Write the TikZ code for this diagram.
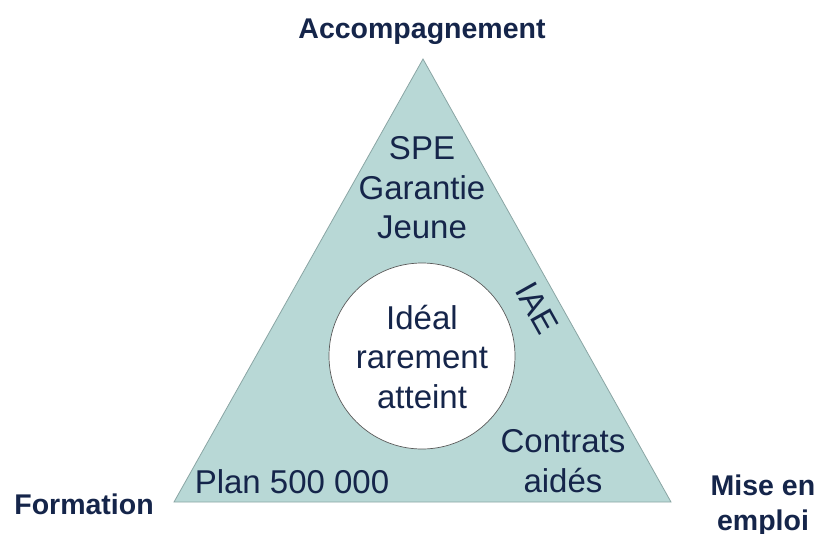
\documentclass[tikz,border=0pt]{standalone}
\usepackage{fontspec}
\setmainfont{Liberation Sans}
\definecolor{txt}{HTML}{15254A}
\definecolor{trifill}{HTML}{B8D8D6}
\definecolor{edge}{HTML}{8AA5A4}
\begin{document}
\begin{tikzpicture}[x=1pt,y=-1pt,
  lbl/.style={text=txt,font=\fontsize{33}{39.5}\selectfont,align=center,inner sep=0pt},
  corner/.style={text=txt,font=\bfseries\fontsize{28.5}{35}\selectfont,align=center,inner sep=0pt}]
\path[use as bounding box] (0,0) rectangle (819,533);
\coordinate (A) at (423,59);
\coordinate (L) at (174,502);
\coordinate (R) at (671,502);
\draw[fill=trifill,draw=edge,line width=0.8pt,line join=miter] (A) -- (L) -- (R) -- cycle;
\node[circle,draw=gray!70!black,line width=0.7pt,fill=white,minimum size=186pt,inner sep=0pt] (ideal) at (422,356) {};
\node[lbl] (idealtxt) at (422,357) {Idéal\\rarement\\atteint};
\node[lbl] (spe) at (422,188) {SPE\\Garantie\\Jeune};
\node[lbl,rotate=-60.75] (iae) at (537,308) {IAE};
\node[lbl] (contrats) at (563,461) {Contrats\\aidés};
\node[lbl] (plan) at (292,482) {Plan 500 000};
\node[corner] (acc) at (422,32) {Accompagnement};
\node[corner] (form) at (84,504) {Formation};
\node[corner] (mise) at (763,506) {Mise en\\emploi};
\end{tikzpicture}
\end{document}
